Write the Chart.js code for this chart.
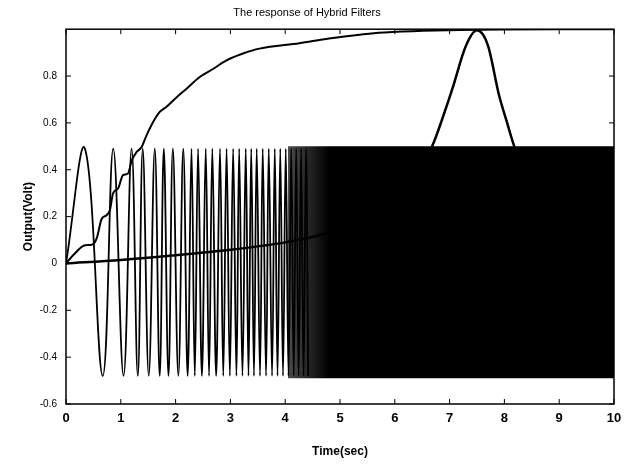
<!DOCTYPE html>
<html lang="en">
<head>
<meta charset="UTF-8">
<title>The response of Hybrid Filters</title>
<script src="https://cdn.jsdelivr.net/npm/chart.js"></script>
<style>
  html, body { margin: 0; padding: 0; background: #fff; }
  #chart { display: block; }
</style>
</head>
<body>
<canvas id="chart" width="624" height="465"></canvas>
<script>
// values
const xTicks = [0, 1, 2, 3, 4, 5, 6, 7, 8, 9, 10];
const yTicks = [-0.6, -0.4, -0.2, 0, 0.2, 0.4, 0.6, 0.8];

// step-like response that climbs to 1
const stepTimes  = [0, 0.13, 0.35, 0.47, 0.56, 0.65, 0.74, 0.80, 0.86, 0.95, 1.04, 1.13, 1.20, 1.29, 1.38, 1.47, 1.59, 1.71, 1.83, 2.02, 2.20, 2.44, 2.68, 2.93, 3.23, 3.53, 4.26, 4.8, 5.7, 6.5, 7.2, 8, 9, 10];
const stepValues = [0, 0.035, 0.078, 0.080, 0.107, 0.19, 0.206, 0.227, 0.30, 0.32, 0.377, 0.384, 0.44, 0.476, 0.497, 0.547, 0.604, 0.647, 0.668, 0.71, 0.746, 0.796, 0.83, 0.867, 0.896, 0.917, 0.94, 0.96, 0.985, 0.993, 0.997, 0.999, 1.0, 1.0];

// slow ramp that turns into the bump near 7.5 s
const slowTimes  = [0, 1, 2, 3, 3.53, 4, 5, 6, 6.4, 6.68, 6.9, 7.05, 7.3, 7.5, 7.7, 7.9, 8.05, 8.18, 8.6, 9.3, 10];
const slowValues = [0, 0.015, 0.035, 0.058, 0.074, 0.09, 0.15, 0.3, 0.4, 0.5, 0.64, 0.745, 0.93, 0.995, 0.93, 0.72, 0.6, 0.5, 0.3, 0.15, 0.08];

// chirp signal: extremum times of the sweep
const chirpPeakTimes   = [0.346, 0.862, 1.197, 1.40, 1.62, 1.785, 1.95, 2.14, 2.29, 2.41, 2.55, 2.67, 2.81, 2.93, 3.05, 3.16, 3.28, 3.38, 3.48, 3.59, 3.70, 3.81, 3.91, 4.01, 4.11, 4.20, 4.29, 4.38];
const chirpTroughTimes = [0.67, 1.05, 1.31, 1.51, 1.71, 1.87, 2.05, 2.22, 2.35, 2.48, 2.61, 2.74, 2.87, 2.99, 3.11, 3.22, 3.33, 3.43, 3.54, 3.65, 3.76, 3.86, 3.96, 4.06, 4.155, 4.245, 4.335, 4.42];
const chirpPeak = 0.49;
const chirpTrough = -0.48;

// the sweep gets too dense to resolve: drawn as a filled band
const bandTimes  = [4.05, 10];
const bandTop    = [0.5, 0.5];
const bandBottom = [-0.49, -0.49];

const pts = (xs, ys) => xs.map((x, i) => ({ x: x, y: ys[i] }));

const chirpPoints = [{ x: 0, y: 0 }];
chirpPeakTimes.forEach((t, i) => {
    chirpPoints.push({ x: t, y: chirpPeak });
    chirpPoints.push({ x: chirpTroughTimes[i], y: chirpTrough });
});

// dark band fades in from grey to black
function bandFill(context) {
    const chart = context.chart;
    if (!chart.chartArea) return '#000';
    const xs = chart.scales.x;
    const g = chart.ctx.createLinearGradient(xs.getPixelForValue(4.05), 0, xs.getPixelForValue(4.8), 0);
    g.addColorStop(0, 'rgba(0,0,0,0.7)');
    g.addColorStop(1, 'rgba(0,0,0,1)');
    return g;
}

// box round the plot with ticks pointing inwards
const frameTicks = {
    id: 'frameTicks',
    afterDraw(chart) {
        const { ctx, chartArea: a, scales: { x, y } } = chart;
        ctx.save();
        ctx.strokeStyle = '#000';
        ctx.lineWidth = 1.5;
        ctx.strokeRect(a.left, a.top, a.right - a.left, a.bottom - a.top);
        ctx.lineWidth = 1;
        ctx.beginPath();
        xTicks.forEach(v => {
            const px = x.getPixelForValue(v);
            ctx.moveTo(px, a.bottom); ctx.lineTo(px, a.bottom - 5);
            ctx.moveTo(px, a.top); ctx.lineTo(px, a.top + 5);
        });
        yTicks.forEach(v => {
            const py = y.getPixelForValue(v);
            ctx.moveTo(a.left, py); ctx.lineTo(a.left + 5, py);
            ctx.moveTo(a.right, py); ctx.lineTo(a.right - 5, py);
        });
        ctx.stroke();
        ctx.restore();
    }
};

new Chart(document.getElementById('chart'), {
    type: 'line',
    data: {
        datasets: [
            {
                label: 'step',
                data: pts(stepTimes, stepValues),
                borderColor: '#000',
                borderWidth: 2,
                cubicInterpolationMode: 'monotone',
                pointRadius: 0
            },
            {
                label: 'slow',
                data: pts(slowTimes, slowValues),
                borderColor: '#000',
                borderWidth: 2.5,
                cubicInterpolationMode: 'monotone',
                pointRadius: 0
            },
            {
                label: 'chirp',
                data: chirpPoints,
                borderColor: '#000',
                borderWidth: 1.8,
                tension: 0.4,
                pointRadius: 0
            },
            {
                label: 'band top',
                data: pts(bandTimes, bandTop),
                borderColor: 'rgba(0,0,0,0)',
                borderWidth: 0,
                pointRadius: 0
            },
            {
                label: 'band bottom',
                data: pts(bandTimes, bandBottom),
                borderColor: 'rgba(0,0,0,0)',
                borderWidth: 0,
                pointRadius: 0,
                fill: '-1',
                backgroundColor: bandFill
            }
        ]
    },
    options: {
        responsive: false,
        animation: false,
        layout: { padding: { left: 0, right: 10, top: 0, bottom: 0 } },
        plugins: {
            legend: { display: false },
            tooltip: { enabled: false },
            title: {
                display: true,
                text: 'The response of Hybrid Filters',
                color: '#000',
                font: { family: 'Liberation Sans, Arial, sans-serif', size: 11, weight: 'normal' },
                padding: { top: 6, bottom: 10 }
            }
        },
        scales: {
            x: {
                type: 'linear',
                min: 0,
                max: 10,
                afterBuildTicks: s => { s.ticks = xTicks.map(v => ({ value: v })); },
                afterFit: s => { s.height = 61; s.paddingLeft = 0; s.paddingRight = 0; },
                grid: { display: false, drawTicks: false },
                border: { display: false },
                ticks: {
                    color: '#000',
                    padding: 7,
                    maxRotation: 0,
                    font: { family: 'Liberation Sans, Arial, sans-serif', size: 13, weight: 'bold' }
                },
                title: {
                    display: true,
                    text: 'Time(sec)',
                    color: '#000',
                    font: { family: 'Liberation Sans, Arial, sans-serif', size: 12, weight: 'bold' },
                    padding: { top: 0, bottom: 6 }
                }
            },
            y: {
                min: -0.6,
                max: 1.0,
                afterBuildTicks: s => { s.ticks = yTicks.map(v => ({ value: v })); },
                afterFit: s => { s.width = 66; },
                grid: { display: false, drawTicks: false },
                border: { display: false },
                ticks: {
                    color: '#000',
                    padding: 9,
                    font: { family: 'Liberation Sans, Arial, sans-serif', size: 10 },
                    callback: v => (v === 0 ? '0' : v.toFixed(1))
                },
                title: {
                    display: true,
                    text: 'Output(Volt)',
                    color: '#000',
                    font: { family: 'Liberation Sans, Arial, sans-serif', size: 12, weight: 'bold' },
                    padding: { top: 21, bottom: 0 }
                }
            }
        }
    },
    plugins: [frameTicks]
});
</script>
</body>
</html>
